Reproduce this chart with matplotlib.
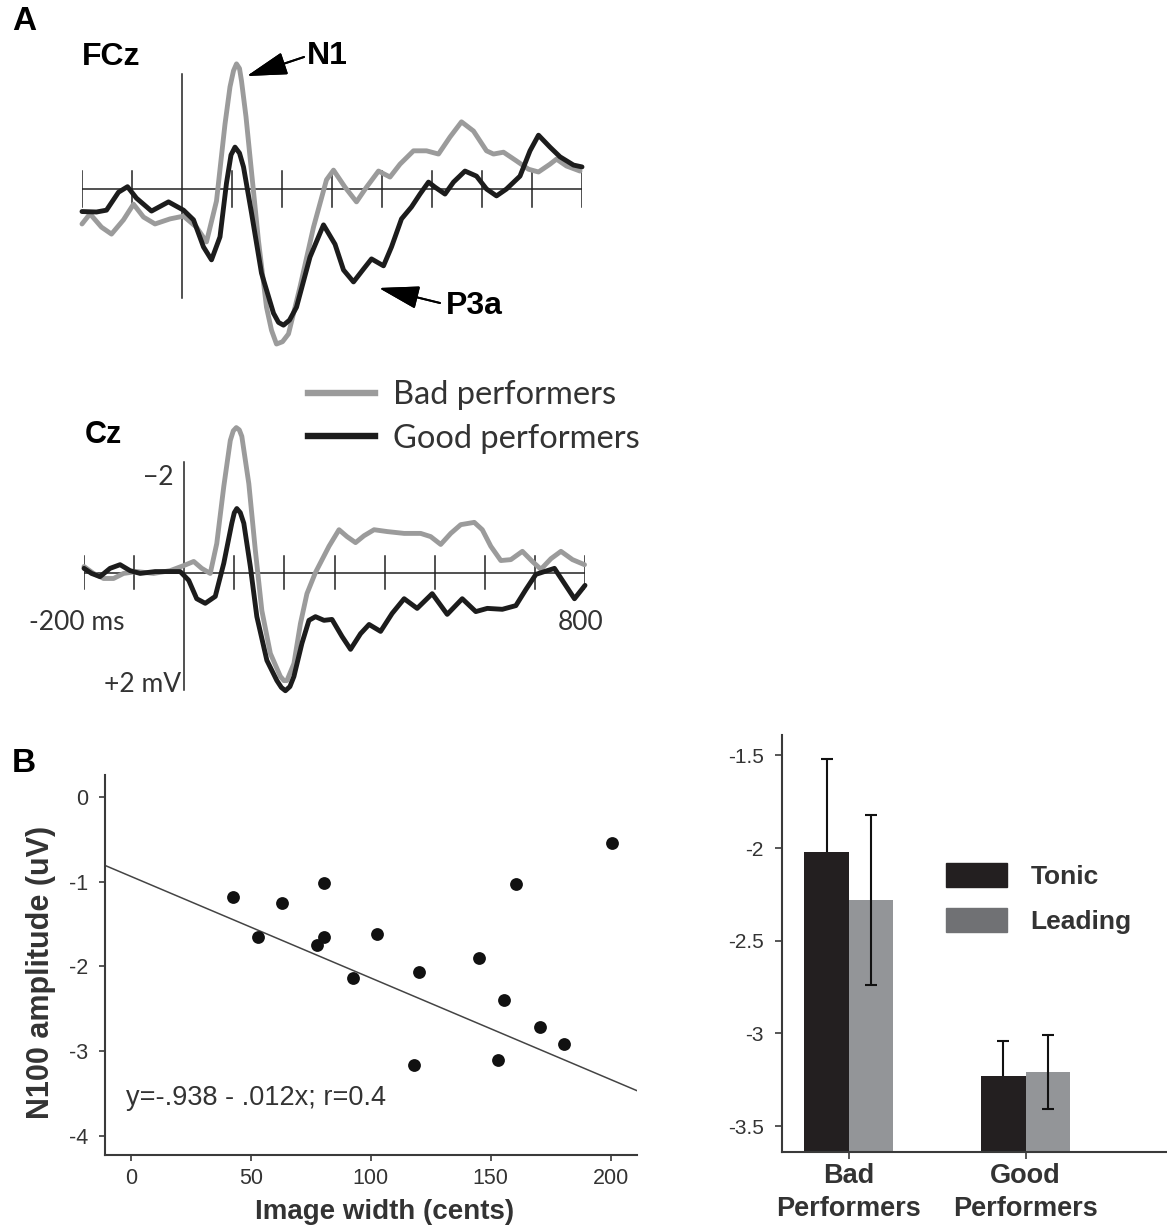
import matplotlib.pyplot as plt
from matplotlib.lines import Line2D
from matplotlib.patches import Patch

plt.rcParams['font.family'] = ['Liberation Sans', 'DejaVu Sans']
plt.rcParams['axes.unicode_minus'] = False

W, H = 1167, 1228
PX_PER_UV = 46.0

# grand-average ERPs, time in ms, amplitude in uV (negative plotted up)
fcz_bad_t = [-200, -184, -161, -141, -117, -97, -77, -54, -24, 3, 29, 49, 69, 86, 96, 103, 109, 115, 119, 128, 136, 153, 169,
             179, 189, 201, 213, 236, 263, 289, 303, 326, 349, 369, 393, 416, 436, 463, 489, 513, 536, 559, 583, 609, 623,
             643, 669, 693, 713, 736, 749, 769, 796]
fcz_bad_uv = [0.76, 0.54, 0.83, 0.98, 0.67, 0.33, 0.61, 0.76, 0.65, 0.59, 0.83, 1.15, 0.26, -1.41, -2.22, -2.57, -2.72, -2.62, -2.35, -1.57, -0.70, 1.13, 2.57,
              3.07, 3.37, 3.32, 3.15, 2.13, 0.83, -0.20, -0.41, -0.04, 0.28, -0.04, -0.39, -0.26, -0.54, -0.83, -0.83, -0.76, -1.13, -1.46, -1.26, -0.83, -0.76,
              -0.80, -0.61, -0.43, -0.37, -0.54, -0.65, -0.50, -0.39]
fcz_good_t = [-200, -171, -151, -127, -109, -91, -61, -27, 3, 23, 43, 59, 76, 89, 98, 106, 115, 123, 139, 159, 183, 193, 203,
              215, 229, 256, 283, 306, 323, 343, 363, 379, 403, 419, 439, 459, 476, 493, 506, 526, 543, 566, 589, 609,
              629, 649, 676, 696, 713, 736, 756, 783, 800]
fcz_good_uv = [0.49, 0.50, 0.46, 0.07, -0.05, 0.20, 0.48, 0.28, 0.46, 0.67, 1.26, 1.54, 1.04, -0.13, -0.74, -0.91, -0.78, -0.48, 0.52, 1.83, 2.70, 2.90, 2.96,
               2.85, 2.57, 1.48, 0.78, 1.20, 1.76, 2.02, 1.74, 1.52, 1.67, 1.26, 0.65, 0.39, 0.11, -0.15, -0.04, 0.11, -0.15, -0.39, -0.28, 0.0,
               0.15, 0.0, -0.28, -0.83, -1.17, -0.91, -0.70, -0.52, -0.48]

cz_bad_t = [-200, -181, -161, -141, -121, -95, -61, -28, -1, 19, 35, 52, 65, 79, 92, 98, 104, 110, 115, 129, 142, 155,
            172, 192, 199, 205, 219, 232, 245, 262, 289, 309, 325, 342, 359, 379, 405, 439, 472, 492, 512, 532, 552,
            579, 595, 612, 632, 652, 675, 695, 712, 732, 752, 775, 799]
cz_bad_uv = [-0.13, 0.02, 0.13, 0.13, 0.02, -0.02, 0.02, -0.04, -0.15, -0.24, -0.09, 0.02, -0.63, -1.87, -2.87, -3.08, -3.15, -3.10, -2.96, -1.93, -0.48, 0.83,
             1.76, 2.26, 2.35, 2.35, 1.98, 1.11, 0.46, 0.0, -0.57, -0.93, -0.78, -0.65, -0.80, -0.93, -0.89, -0.85, -0.85, -0.78, -0.61, -0.85, -1.04,
             -1.09, -0.93, -0.57, -0.26, -0.28, -0.46, -0.24, -0.07, -0.30, -0.46, -0.28, -0.17]
cz_good_t = [-200, -185, -168, -148, -128, -108, -88, -58, -35, -8, 9, 25, 42, 62, 79, 95, 100, 105, 112, 119, 132, 145,
             165, 185, 194, 202, 211, 219, 235, 249, 262, 279, 295, 315, 332, 352, 369, 392, 415, 439, 465, 495, 525, 555,
             582, 605, 635, 662, 682, 702, 739, 759, 779, 800]
cz_good_uv = [-0.09, 0.02, 0.09, -0.09, -0.17, -0.04, 0.02, -0.02, -0.02, -0.02, 0.17, 0.57, 0.67, 0.52, -0.20, -1.07, -1.30, -1.39, -1.30, -1.07, -0.13, 0.96,
              1.91, 2.35, 2.50, 2.57, 2.48, 2.26, 1.54, 1.04, 0.96, 1.04, 1.02, 1.39, 1.67, 1.33, 1.13, 1.28, 0.89, 0.57, 0.78, 0.46, 0.91, 0.57,
              0.85, 0.78, 0.80, 0.72, 0.37, 0.04, -0.09, 0.24, 0.57, 0.28]

# N100 vs image width, one point per subject
width_cents = [42.5, 53.0, 63.0, 80.5, 80.5, 77.4, 92.8, 102.8, 120.2, 117.9, 145.3, 155.4, 153.0, 160.4, 170.4, 180.5, 200.4]
n100_amp = [-1.18, -1.65, -1.25, -1.02, -1.65, -1.75, -2.14, -1.62, -2.07, -3.17, -1.90, -2.40, -3.11, -1.03, -2.72, -2.92, -0.54]
fit_intercept = -0.938
fit_slope = -0.012

# N100 by group and condition
groups = ["Bad\nPerformers", "Good\nPerformers"]
tonic_mean = [-2.02, -3.23]
tonic_err = [0.50, 0.19]
leading_mean = [-2.28, -3.21]
leading_err = [0.46, 0.20]

GRAY = '#9b9b9b'
BLACK = '#1c1c1c'
AXC = '#3a3a3a'
TXT = '#333333'
ERP_FONT = ['Lato', 'DejaVu Sans']

fig = plt.figure(figsize=(W / 100, H / 100), dpi=100)


def box(l, t, r, b):
    return [l / W, 1 - b / H, (r - l) / W, (b - t) / H]


def label(x, y, s, **kw):
    fig.text(x / W, 1 - y / H, s, **kw)


def erp_axes(l, r, top, bottom, base, tick, vline):
    ax = fig.add_axes(box(l, top, r, bottom))
    ax.set_xlim(-200, 800)
    ax.set_ylim((bottom - base) / PX_PER_UV, (top - base) / PX_PER_UV)
    ax.axis('off')
    ax.plot([-200, 800], [0, 0], color='#222222', lw=1.1)
    for t in range(-200, 801, 100):
        if t != 0:
            ax.plot([t, t], [-tick, tick], color='#222222', lw=1.1)
    ax.plot([0, 0], vline, color='#222222', lw=1.1)
    return ax


def erp_traces(ax, bt, bv, gt, gv):
    kw = dict(lw=3.5, solid_joinstyle='round', solid_capstyle='round', clip_on=False)
    bad, = ax.plot(bt, bv, color=GRAY, **kw)
    good, = ax.plot(gt, gv, color=BLACK, **kw)
    return bad, good


# ---- A: FCz
ax_fcz = erp_axes(82, 582, 40, 360, 189, 0.40, [-2.50, 2.37])
erp_traces(ax_fcz, fcz_bad_t, fcz_bad_uv, fcz_good_t, fcz_good_uv)

label(12, 22, "A", fontsize=24, fontweight='bold', va='center')
label(82, 57, "FCz", fontsize=23, fontweight='bold', va='center')
label(307, 56, "N1", fontsize=23, fontweight='bold', va='center')
label(446, 306, "P3a", fontsize=23, fontweight='bold', va='center')

arrow = dict(arrowstyle='-|>,head_length=1.4,head_width=0.4', lw=1.4, color='black',
             mutation_scale=18, shrinkA=0, shrinkB=0)
fig.add_artist(plt.annotate("", xy=(247 / W, 1 - 76 / H), xytext=(304 / W, 1 - 57 / H),
                            xycoords='figure fraction', textcoords='figure fraction', arrowprops=arrow))
fig.add_artist(plt.annotate("", xy=(379 / W, 1 - 288 / H), xytext=(440 / W, 1 - 303 / H),
                            xycoords='figure fraction', textcoords='figure fraction', arrowprops=arrow))

# ---- A: Cz
ax_cz = erp_axes(84, 585, 400, 710, 572.5, 0.35, [-2.40, 2.55])
erp_traces(ax_cz, cz_bad_t, cz_bad_uv, cz_good_t, cz_good_uv)

label(85, 435, "Cz", fontsize=22, fontweight='bold', va='center')
label(174, 477, "\u22122", fontsize=19, family=ERP_FONT, color=TXT, ha='right', va='center')
label(181, 684, "+2 mV", fontsize=19, family=ERP_FONT, color=TXT, ha='right', va='center')
label(77, 623, "-200 ms", fontsize=19, family=ERP_FONT, color=TXT, ha='center', va='center')
label(581, 623, "800", fontsize=19, family=ERP_FONT, color=TXT, ha='center', va='center')

fig.legend(handles=[Line2D([], [], color=GRAY, lw=4.6), Line2D([], [], color=BLACK, lw=4.6)],
           labels=["Bad performers", "Good performers"],
           loc='upper left', bbox_to_anchor=(308 / W, 1 - 380 / H), frameon=False,
           prop=dict(family=ERP_FONT, size=23.5), handlelength=2.05, handletextpad=0.55,
           labelspacing=0.42, borderpad=0, borderaxespad=0, labelcolor=TXT)

# ---- B: scatter
label(12, 763, "B", fontsize=24, fontweight='bold', va='center')

ax_sc = fig.add_axes(box(105, 775, 637, 1155))
ax_sc.scatter(width_cents, n100_amp, s=85, color='#111111', zorder=3, linewidths=0)
fx = [-10.8, 211]
ax_sc.plot(fx, [fit_intercept + fit_slope * v for v in fx], color='#444444', lw=1.1)
ax_sc.set_xlim(-10.8, 211)
ax_sc.set_ylim(-4.23, 0.26)
ax_sc.set_xticks([0, 50, 100, 150, 200])
ax_sc.set_yticks([0, -1, -2, -3, -4])
ax_sc.set_yticklabels(['0', '-1', '-2', '-3', '-4'])
for side in ['top', 'right']:
    ax_sc.spines[side].set_visible(False)
for side in ['left', 'bottom']:
    ax_sc.spines[side].set_color(AXC)
    ax_sc.spines[side].set_linewidth(1.5)
ax_sc.tick_params(axis='y', length=4, width=1.2, color=AXC, labelsize=15.5, labelcolor=TXT, pad=8)
ax_sc.tick_params(axis='x', length=4, width=1.2, color=AXC, labelsize=15.5, labelcolor=TXT, pad=5)
ax_sc.text(0.04, 0.15, "y=-.938 - .012x; r=0.4", transform=ax_sc.transAxes,
           fontsize=19.5, color=TXT, va='center')
ax_sc.set_ylabel("N100 amplitude (uV)", fontsize=22, fontweight='bold', color=TXT, va='center')
ax_sc.yaxis.set_label_coords(-0.12, 0.48)
ax_sc.set_xlabel("Image width (cents)", fontsize=20, fontweight='bold', color=TXT, va='center')
ax_sc.xaxis.set_label_coords(0.526, -0.15)

# ---- B: bars
ax_b = fig.add_axes(box(782, 735, 1167, 1152))
floor = -3.64
bw = 0.252
xs = list(range(len(groups)))
ax_b.bar([x - bw / 2 for x in xs], [m - floor for m in tonic_mean], bw, bottom=floor,
         color='#231f20', zorder=2)
ax_b.bar([x + bw / 2 for x in xs], [m - floor for m in leading_mean], bw, bottom=floor,
         color='#939598', zorder=2)
ax_b.errorbar([x - bw / 2 for x in xs], tonic_mean, yerr=tonic_err, fmt='none',
              ecolor='#111111', elinewidth=1.5, capsize=4.5, capthick=1.5, zorder=1)
ax_b.errorbar([x + bw / 2 for x in xs], leading_mean, yerr=leading_err, fmt='none',
              ecolor='#111111', elinewidth=1.5, capsize=4.5, capthick=1.5, zorder=3)
ax_b.set_xlim(-0.379, 1.80)
ax_b.set_ylim(floor, -1.39)
ax_b.set_yticks([-1.5, -2, -2.5, -3, -3.5])
ax_b.set_yticklabels(['-1.5', '-2', '-2.5', '-3', '-3.5'])
ax_b.set_xticks(xs)
ax_b.set_xticklabels(groups, fontsize=19.5, fontweight='bold', color=TXT, linespacing=1.35)
for side in ['top', 'right']:
    ax_b.spines[side].set_visible(False)
for side in ['left', 'bottom']:
    ax_b.spines[side].set_color(AXC)
    ax_b.spines[side].set_linewidth(1.5)
ax_b.tick_params(axis='y', length=5, width=1.2, color=AXC, labelsize=15, labelcolor=TXT, pad=8)
ax_b.tick_params(axis='x', length=5, width=1.2, color=AXC, pad=3)
ax_b.legend(handles=[Patch(color='#231f20'), Patch(color='#707174')], labels=["Tonic", "Leading"],
            loc='upper left', bbox_to_anchor=(946 / W, 1 - 863 / H), bbox_transform=fig.transFigure,
            frameon=False, prop=dict(size=19, weight='bold'), labelcolor=TXT,
            handlelength=2.3, handleheight=1.05, handletextpad=0.9, labelspacing=0.7,
            borderpad=0, borderaxespad=0)

fig.savefig("out.png", dpi=100)
